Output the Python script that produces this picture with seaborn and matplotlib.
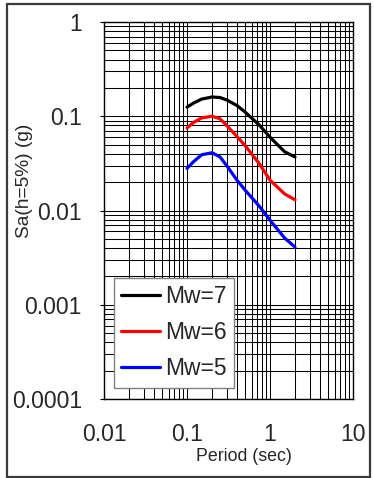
import matplotlib
matplotlib.use("Agg")
import matplotlib.pyplot as plt
import matplotlib.ticker as mticker
from matplotlib.patches import Rectangle
import seaborn as sns
import pandas as pd

# spectral acceleration curves
periods = [0.1, 0.12, 0.15, 0.2, 0.25, 0.3, 0.4, 0.5, 0.75, 1.0, 1.5, 2.0]
sa_mw7 = [0.125, 0.138, 0.152, 0.160, 0.158, 0.149, 0.130, 0.111, 0.080, 0.060, 0.042, 0.037]
sa_mw6 = [0.075, 0.086, 0.096, 0.100, 0.094, 0.080, 0.061, 0.049, 0.031, 0.021, 0.015, 0.013]
sa_mw5 = [0.028, 0.033, 0.039, 0.041, 0.037, 0.030, 0.021, 0.0165, 0.011, 0.0079, 0.0051, 0.0041]
labels = ["Mw=7", "Mw=6", "Mw=5"]
colors = ["black", "red", "blue"]
x_ticks = [0.01, 0.1, 1, 10]
y_ticks = [0.0001, 0.001, 0.01, 0.1, 1]

df = pd.concat(
    [
        pd.DataFrame({"period": periods, "sa": vals, "mag": lab})
        for vals, lab in zip([sa_mw7, sa_mw6, sa_mw5], labels)
    ],
    ignore_index=True,
)

sns.set_style("white")
plt.rcParams["font.family"] = ["Liberation Sans", "DejaVu Sans"]

fig = plt.figure(figsize=(3.74, 4.78), dpi=100)
ax = fig.add_axes([104 / 374, 1 - 399 / 478, 249 / 374, 377 / 478])

sns.lineplot(
    data=df,
    x="period",
    y="sa",
    hue="mag",
    hue_order=labels,
    palette=dict(zip(labels, colors)),
    linewidth=2.3,
    ax=ax,
)

ax.set_xscale("log")
ax.set_yscale("log")
ax.set_xlim(0.01, 10)
ax.set_ylim(0.0001, 1)

fmt = mticker.FuncFormatter(lambda v, _: "{:g}".format(v))
ax.xaxis.set_major_locator(mticker.FixedLocator(x_ticks))
ax.yaxis.set_major_locator(mticker.FixedLocator(y_ticks))
ax.xaxis.set_major_formatter(fmt)
ax.yaxis.set_major_formatter(fmt)
ax.xaxis.set_minor_locator(mticker.LogLocator(base=10, subs=range(2, 10)))
ax.yaxis.set_minor_locator(mticker.LogLocator(base=10, subs=range(2, 10)))
ax.xaxis.set_minor_formatter(mticker.NullFormatter())
ax.yaxis.set_minor_formatter(mticker.NullFormatter())

ax.grid(True, which="both", color="black", linewidth=0.75)
for sp in ax.spines.values():
    sp.set_color("black")
    sp.set_linewidth(1)

ax.tick_params(axis="x", which="both", length=0, pad=17, labelsize=16.5)
ax.tick_params(axis="y", which="major", length=3, width=0.8, color="black",
               direction="out", left=True, pad=13, labelsize=16.5)
ax.tick_params(axis="y", which="minor", length=0)

ax.set_xlabel("Period (sec)", fontsize=12.8)
ax.set_ylabel("Sa(h=5%) (g)", fontsize=13.8)
ax.xaxis.set_label_coords((244 - 104) / 249, (399 - 448) / 377)
ax.yaxis.set_label_coords((33 - 104) / 249, (399 - 181) / 377)

leg = ax.legend(
    loc="upper left",
    bbox_to_anchor=((114 - 104) / 249, (399 - 278) / 377),
    borderaxespad=0,
    fancybox=False,
    framealpha=1,
    edgecolor="#808080",
    fontsize=16.5,
    handlelength=1.7,
    handletextpad=0.22,
    labelspacing=0.57,
    borderpad=0.32,
    title=None,
)
leg.get_frame().set_linewidth(1)
for line in leg.get_lines():
    line.set_linewidth(2.3)

fig.patches.append(
    Rectangle(
        (7 / 374, 1 - 477 / 478),
        (370 - 7) / 374,
        (477 - 4) / 478,
        transform=fig.transFigure,
        fill=False,
        edgecolor="#3a3a3a",
        linewidth=1.6,
    )
)

fig.savefig("out.png", dpi=100)
